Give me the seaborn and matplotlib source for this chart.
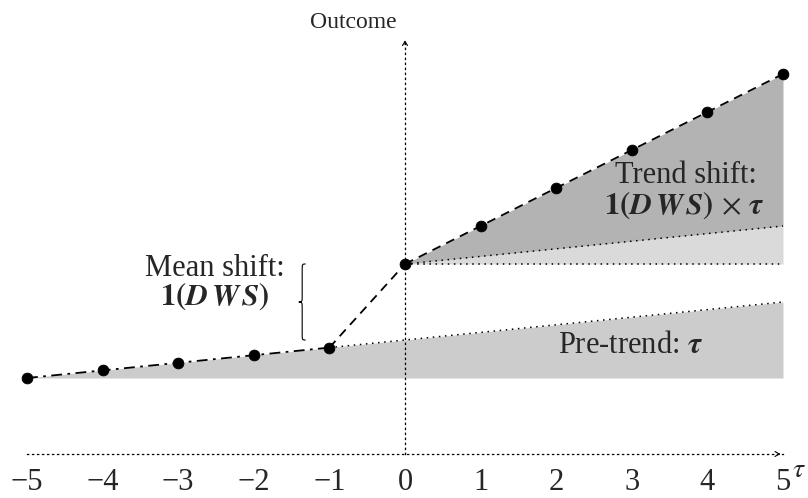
import numpy as np
import pandas as pd
import matplotlib
matplotlib.use("Agg")
import matplotlib.pyplot as plt
from matplotlib.path import Path
from matplotlib.patches import PathPatch
import seaborn as sns

# ---- data ----
periods = [-5, -4, -3, -2, -1, 0, 1, 2, 3, 4, 5]
outcome = [0, 1, 2, 3, 4, 15, 20, 25, 30, 35, 40]
pretrend_line = [0, 1, 2, 3, 4, 5, 6, 7, 8, 9, 10]        # extrapolated pre-trend
post_periods = [0, 1, 2, 3, 4, 5]
post_base = [15, 15, 15, 15, 15, 15]                     # level after mean shift
post_pretrend = [15, 16, 17, 18, 19, 20]                 # mean shift + pre-trend
tick_values = [-5, -4, -3, -2, -1, 0, 1, 2, 3, 4, 5]

sns.set_theme(style="white")
plt.rcParams["font.family"] = ["Liberation Serif", "DejaVu Serif"]
plt.rcParams["mathtext.fontset"] = "stix"

fig = plt.figure(figsize=(8.08, 4.98), dpi=100)
ax = fig.add_axes([27 / 808, 0, (783 - 27) / 808, 1])
ax.set_xlim(-5, 5)
ax.set_ylim((378 - 498) / 7.6, 378 / 7.6)

df = pd.DataFrame({"t": periods, "y": outcome, "pre": pretrend_line})
post = pd.DataFrame({"t": post_periods, "base": post_base, "pt": post_pretrend,
                     "y": outcome[5:]})

c_pre = "#cccccc"
c_light = "#dadada"
c_dark = "#b3b3b3"

# shaded areas
ax.fill_between(df["t"], 0, df["pre"], color=c_pre, lw=0, zorder=1)
ax.fill_between(post["t"], post["base"], post["pt"], color=c_light, lw=0, zorder=1)
ax.fill_between(post["t"], post["pt"], post["y"], color=c_dark, lw=0, zorder=1)

dot = (0, (1, 3))
# dotted reference lines
sns.lineplot(data=df[df["t"] >= -1], x="t", y="pre", ax=ax, color="black",
             lw=1.1, linestyle=dot, zorder=2)
sns.lineplot(data=post, x="t", y="base", ax=ax, color="black", lw=1.1,
             linestyle=dot, zorder=2)
sns.lineplot(data=post, x="t", y="pt", ax=ax, color="black", lw=1.1,
             linestyle=dot, zorder=2)

# outcome path
sns.lineplot(data=df[df["t"] <= -1], x="t", y="y", ax=ax, color="black", lw=1.3,
             linestyle=(0, (6, 3, 1.5, 3)), zorder=3)
sns.lineplot(data=df[(df["t"] >= -1) & (df["t"] <= 0)], x="t", y="y", ax=ax,
             color="black", lw=1.3, linestyle=(0, (5, 3.5)), zorder=3)
sns.lineplot(data=df[df["t"] >= 0], x="t", y="y", ax=ax, color="black", lw=1.3,
             linestyle=(0, (5, 3.5)), zorder=3)
sns.scatterplot(data=df, x="t", y="y", ax=ax, color="black", s=60,
                edgecolor="black", zorder=4, clip_on=False)

# axes as dotted lines
x_axis_y = -10
y_top = 44.5
for s in ["top", "right"]:
    ax.spines[s].set_visible(False)
ax.spines["bottom"].set_position(("data", x_axis_y))
ax.spines["bottom"].set_linestyle(dot)
ax.spines["bottom"].set_linewidth(0.9)
ax.spines["bottom"].set_color("black")
ax.spines["bottom"].set_bounds(-5, 5)
ax.spines["left"].set_position(("data", 0))
ax.spines["left"].set_linestyle(dot)
ax.spines["left"].set_linewidth(0.9)
ax.spines["left"].set_color("black")
ax.spines["left"].set_bounds(x_axis_y, y_top)
ax.spines["left"].set_zorder(2)
ax.set_yticks([])
ax.set_xticks(tick_values)
ax.set_xticklabels([f"{v}".replace("-", "\u2212") for v in tick_values])
ax.tick_params(axis="x", direction="inout", length=6, width=0.8, color="black",
               labelsize=22, pad=7)
ax.set_xlabel("")
ax.set_ylabel("")

# arrow heads
ax.annotate("", xy=(5, x_axis_y), xytext=(4.9, x_axis_y),
            arrowprops=dict(arrowstyle="->,head_length=0.25,head_width=0.15",
                            lw=0.8, color="black"), annotation_clip=False)
ax.annotate("", xy=(0, y_top + 0.3), xytext=(0, y_top - 1),
            arrowprops=dict(arrowstyle="->,head_length=0.25,head_width=0.15",
                            lw=0.8, color="black"), annotation_clip=False)

ax.text(-0.69, 46.05, "Outcome", ha="center", va="baseline", fontsize=17)
ax.text(5.12, -12.2, r"$\tau$", ha="left", va="center", fontsize=20,
        clip_on=False)

# annotations
ax.text(-2.51, 13.4, "Mean shift:", ha="center", va="baseline", fontsize=22)
ax.text(-2.51, 9.6, r"$\mathbf{1(}\mathbfit{D\,W\,S}\mathbf{)}$", ha="center",
        va="baseline", fontsize=22)
ax.text(3.72, 25.6, "Trend shift:", ha="center", va="baseline", fontsize=22)
ax.text(3.69, 21.6,
        r"$\mathbf{1(}\mathbfit{D\,W\,S}\mathbf{)}\,\times\,\mathbfit{\tau}$",
        ha="center", va="baseline", fontsize=22)
ax.text(2.98, 3.3, r"Pre-trend: $\mathbfit{\tau}$", ha="center", va="baseline",
        fontsize=22)

# curly brace for the mean shift (from pre-trend level to shifted level at t=0)
y0, y1 = pretrend_line[5], outcome[5]
xs, a, d = -1.36, 0.045, 0.9
ym = (y0 + y1) / 2
verts = [(xs + a, y1), (xs, y1), (xs, y1), (xs, y1 - d),
         (xs, ym + d),
         (xs, ym), (xs, ym), (xs - a, ym),
         (xs, ym), (xs, ym), (xs, ym - d),
         (xs, y0 + d),
         (xs, y0), (xs, y0), (xs + a, y0)]
codes = [Path.MOVETO, Path.CURVE4, Path.CURVE4, Path.CURVE4,
         Path.LINETO,
         Path.CURVE4, Path.CURVE4, Path.CURVE4,
         Path.CURVE4, Path.CURVE4, Path.CURVE4,
         Path.LINETO,
         Path.CURVE4, Path.CURVE4, Path.CURVE4]
ax.add_patch(PathPatch(Path(verts, codes), fill=False, lw=0.8, color="black"))

ax.patch.set_alpha(0)
fig.savefig("out.png", dpi=100)
